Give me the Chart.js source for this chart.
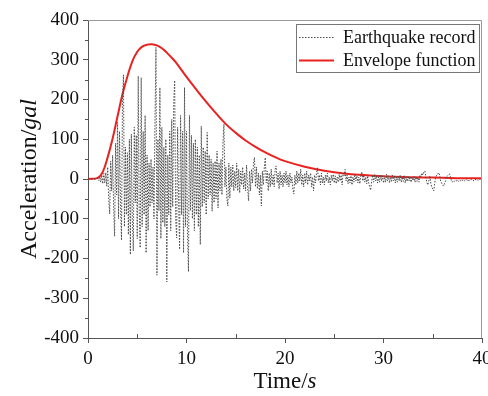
<!DOCTYPE html>
<html lang="en">
<head>
<meta charset="UTF-8">
<script src="https://cdn.jsdelivr.net/npm/chart.js"></script>
<title>Earthquake record and envelope function</title>
<style>
  html, body { margin: 0; padding: 0; background: #fff; }
</style>
</head>
<body>
<canvas id="grafico" width="488" height="396"></canvas>
<script>
const xTicks = [0, 10, 20, 30, 40];
const yTicks = [-400, -300, -200, -100, 0, 100, 200, 300, 400];

// earthquake record, one value every 0.1 s (gal), one row per second
const recordStep = 0.1;
const recordAccel = [
  0, 0, 0, 0, 0, 0, 0, 0, 0, 0,
  2, -4, 6, -8, 10, -12, 14, -10, 16, -18,
  30, -50, -88, 45, -30, 60, -70, -144, 90, -40,
  142, -100, 120, -60, -154, 200, 262, -120, 80, -90,
  66, -140, 100, -190, 113, -100, -181, 130, -60, 110,
  -150, 259, -80, -173, 255, -120, 120, -90, 160, -186,
  60, -130, 40, -70, 50, -60, 30, -100, 150, 331,
  -242, 100, -80, 230, -150, 130, -110, 80, -120, 100,
  -259, 60, -90, 120, -130, 150, -70, 190, 248, -100,
  -148, 130, -60, -177, 160, -90, 120, -186, 230, -120,
  120, -140, -233, 160, -80, 110, -100, 90, -130, 100,
  -90, 80, -120, 60, -165, 133, -70, 80, -60, 70,
  -90, 117, -50, 60, -40, 50, -81, 40, -60, 45,
  -50, 70, -73, 40, -30, 50, -40, 90, 138, -20,
  30, -50, -68, 40, -48, 30, -20, 35, -30, 20,
  -22, 40, -30, 25, -35, 20, -15, 30, -25, 15,
  -30, 35, -20, -55, 20, -30, 25, -10, 40, 54,
  -20, 30, -25, 15, -40, 10, -68, 20, -15, 30,
  54, -10, 20, -30, 15, -20, 25, -15, 10, -20,
  25, 33, -10, 15, -25, 20, -15, 10, -20, 15,
  -10, 20, -15, 10, -20, 15, -10, 5, -25, -38,
  10, -15, 20, -10, 15, -5, 25, -15, 10, -20,
  15, -10, 20, -15, 10, -5, 15, -20, 5, -30,
  10, -10, 15, 28, -5, 10, -15, 15, -10, 5,
  -15, 10, -5, 15, -10, 5, -15, 10, -5, 12,
  -10, 8, -12, 5, -8, 12, -5, 10, -15, 15,
  8, 24, -5, 10, -12, 5, -10, 8, -15, 5,
  -8, 12, -5, 8, -10, 5, -12, 10, 18, -5,
  10, -8, 5, -12, 8, -10, -20, -28, -5, 10,
  -8, 12, -5, 8, -10, 5, -8, 10, -5, 8,
  -10, 5, -8, 12, -5, 8, -10, 5, -6, 10,
  -5, 8, -10, 5, -8, 6, -5, 10, -8, 5,
  -6, 8, -10, 4, -6, 8, -5, 6, -8, 5,
  -4, 6, -8, 5, -6, 4, -8, 10, 5, 15,
  10, 18, 20, 5, -8, -15, -5, 8, -10, -20,
  -25, -30, -10, 5, 10, 12, 16, 10, -5, -10,
  -15, -18, -10, -5, 5, 8, 10, 13, 5, -5,
  -8, -4, -6, -3, -5, -2, -6, -3, -5, -2,
  -4, -2, -5, -3, -1, -4, -2, -5, -3, -1,
  -3, -5, -2, 0, -3, -1, -4, -2, 0, -2,
  -1
];

const envelopeTime = [0, 1, 1.5, 2, 2.5, 3, 3.5, 4, 4.5, 5, 5.5, 6, 6.5, 7, 7.5, 8, 8.5, 9, 9.5, 10, 11, 12, 13, 14, 15, 16, 17, 18, 19, 20, 22, 24, 26, 28, 30, 32, 34, 36, 38, 40];
const envelopeAccel = [0, 3, 18, 55, 102, 158, 213, 258, 296, 320, 333, 338, 339, 336, 329, 318, 305, 291, 274, 257, 225, 194, 165, 138, 116, 97, 81, 67, 55, 45, 31, 21, 14, 10, 7, 5, 4, 3, 2, 2];

const recordPoints = recordAccel.map((v, i) => ({ x: +(i * recordStep).toFixed(1), y: v }));
const envelopePoints = envelopeTime.map((t, i) => ({ x: t, y: envelopeAccel[i] }));

const serif = "'Liberation Serif', 'Times New Roman', serif";

// frame, minor ticks, axis titles and legend
const decor = {
    id: 'decor',
    afterDraw(chart) {
        const { ctx, chartArea: a, scales: { x, y } } = chart;
        ctx.save();

        ctx.strokeStyle = '#9a9a9a';
        ctx.lineWidth = 1;
        ctx.beginPath();
        ctx.moveTo(a.left, a.top + 0.5);
        ctx.lineTo(a.right - 0.5, a.top + 0.5);
        ctx.lineTo(a.right - 0.5, a.bottom);
        ctx.stroke();

        ctx.strokeStyle = '#555';
        ctx.beginPath();
        xTicks.slice(1).forEach((v, i) => {
            const px = Math.round(x.getPixelForValue((v + xTicks[i]) / 2)) + 0.5;
            ctx.moveTo(px, a.bottom);
            ctx.lineTo(px, a.bottom - 4);
        });
        yTicks.slice(1).forEach((v, i) => {
            const py = Math.round(y.getPixelForValue((v + yTicks[i]) / 2)) + 0.5;
            ctx.moveTo(a.left, py);
            ctx.lineTo(a.left - 3, py);
        });
        ctx.stroke();

        ctx.fillStyle = '#111';
        ctx.textBaseline = 'middle';
        ctx.textAlign = 'left';

        // y title
        ctx.save();
        ctx.translate(30, (a.top + a.bottom) / 2);
        ctx.rotate(-Math.PI / 2);
        ctx.font = '24px ' + serif;
        const yA = 'Acceleration/';
        const wA = ctx.measureText(yA).width;
        ctx.font = 'italic 24px ' + serif;
        const wB = ctx.measureText('gal').width;
        let sx = -(wA + wB) / 2;
        ctx.font = '24px ' + serif;
        ctx.fillText(yA, sx, 0);
        ctx.font = 'italic 24px ' + serif;
        ctx.fillText('gal', sx + wA, 0);
        ctx.restore();

        // x title
        ctx.font = '23px ' + serif;
        const xA = 'Time/';
        const wx = ctx.measureText(xA).width;
        ctx.font = 'italic 23px ' + serif;
        const wy = ctx.measureText('s').width;
        sx = (a.left + a.right) / 2 - (wx + wy) / 2;
        ctx.font = '23px ' + serif;
        ctx.fillText(xA, sx, 382);
        ctx.font = 'italic 23px ' + serif;
        ctx.fillText('s', sx + wx, 382);

        // legend
        const lx = 296, ly = 24, lw = 183, lh = 48;
        ctx.fillStyle = '#fff';
        ctx.fillRect(lx, ly, lw, lh);
        ctx.strokeStyle = '#777';
        ctx.strokeRect(lx + 0.5, ly + 0.5, lw, lh);

        chart.data.datasets.forEach((ds, i) => {
            const cy = ly + 13 + i * 23;
            ctx.save();
            ctx.strokeStyle = ds.borderColor;
            ctx.lineWidth = ds.borderWidth;
            ctx.setLineDash(ds.borderDash || []);
            ctx.beginPath();
            ctx.moveTo(lx + 3, cy + 0.5);
            ctx.lineTo(lx + 38, cy + 0.5);
            ctx.stroke();
            ctx.restore();
            ctx.fillStyle = '#111';
            ctx.font = '18px ' + serif;
            ctx.fillText(ds.label, lx + 47, cy + 1);
        });

        ctx.restore();
    }
};

new Chart(document.getElementById('grafico'), {
    type: 'line',
    data: {
        datasets: [{
            label: 'Earthquake record',
            data: recordPoints,
            borderColor: '#4a4a4a',
            borderWidth: 1,
            borderDash: [1.5, 1.5],
            pointRadius: 0,
            tension: 0
        }, {
            label: 'Envelope function',
            data: envelopePoints,
            borderColor: '#e8231f',
            borderWidth: 2,
            pointRadius: 0,
            tension: 0.4
        }]
    },
    options: {
        responsive: false,
        animation: false,
        devicePixelRatio: 1,
        layout: { padding: { top: 20, right: 6, left: 0, bottom: 0 } },
        plugins: {
            legend: { display: false },
            tooltip: { enabled: false }
        },
        scales: {
            x: {
                type: 'linear',
                min: 0,
                max: 40,
                afterBuildTicks: s => { s.ticks = xTicks.map(v => ({ value: v })); },
                afterFit: s => { s.height = 58; s.paddingLeft = 0; s.paddingRight = 0; },
                border: { color: '#555', width: 1 },
                grid: { drawOnChartArea: false, drawTicks: true, tickLength: 5, color: '#555' },
                ticks: { font: { family: serif, size: 19 }, color: '#111', padding: 5, maxRotation: 0 }
            },
            y: {
                type: 'linear',
                min: -400,
                max: 400,
                afterBuildTicks: s => { s.ticks = yTicks.map(v => ({ value: v })); },
                afterFit: s => { s.width = 88; s.paddingTop = 0; s.paddingBottom = 0; },
                border: { color: '#555', width: 1 },
                grid: { drawOnChartArea: false, drawTicks: true, tickLength: 5, color: '#555' },
                ticks: { font: { family: serif, size: 19 }, color: '#111', padding: 4 }
            }
        }
    },
    plugins: [decor]
});
</script>
</body>
</html>
